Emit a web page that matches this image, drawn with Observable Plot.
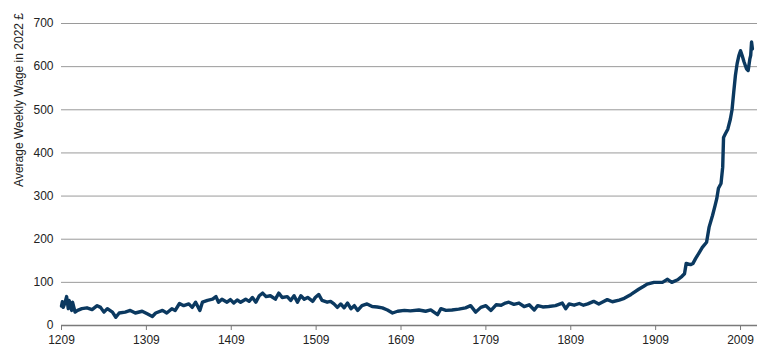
<!DOCTYPE html>
<html>
<head>
<meta charset="utf-8">
<script src="https://cdn.jsdelivr.net/npm/d3@7"></script>
<script src="https://cdn.jsdelivr.net/npm/@observablehq/plot@0.6"></script>
<style>
  html, body { margin: 0; padding: 0; background: #fff; }
  #chart svg { display: block; }
</style>
</head>
<body>
<div id="chart"></div>
<script>
const years = [1209,1210,1211,1213,1215,1217,1218,1221,1222,1225,1228,1233,1239,1245,1251,1255,1259,1263,1269,1273,1277,1284,1290,1296,1304,1310,1316,1320,1328,1333,1339,1343,1348,1353,1359,1363,1367,1372,1375,1381,1387,1391,1394,1398,1404,1408,1412,1416,1420,1426,1430,1434,1438,1442,1446,1450,1455,1461,1465,1469,1475,1479,1483,1487,1491,1495,1499,1505,1508,1512,1516,1522,1526,1530,1534,1538,1542,1546,1550,1554,1558,1563,1569,1575,1581,1587,1593,1599,1605,1613,1620,1630,1638,1644,1652,1656,1662,1669,1677,1685,1691,1697,1703,1709,1715,1721,1727,1732,1736,1742,1748,1754,1760,1766,1770,1776,1783,1791,1799,1803,1807,1813,1819,1824,1829,1836,1842,1846,1852,1858,1866,1872,1880,1889,1895,1899,1907,1917,1923,1928,1935,1940,1943,1945,1950,1953,1956,1960,1964,1969,1972,1976,1979,1981,1983,1986,1988,1989,1991,1994,1997,1999,2001,2003,2005,2007,2009,2011,2013,2016,2018,2020,2021,2022,2023];
const wages = [45,55,42,52,67,39,58,35,54,31,35,39,41,37,46,42,31,39,31,19,29,31,35,29,33,27,21,29,35,29,39,35,51,46,50,42,54,35,54,58,61,67,54,61,54,60,52,59,54,61,56,65,54,69,75,67,69,61,75,65,67,58,69,54,69,61,65,56,65,72,58,54,56,50,42,50,41,52,39,46,35,46,50,44,43,41,36,29,33,35,34,36,33,36,25,39,35,36,38,41,46,31,42,46,35,48,47,52,54,49,52,44,48,36,46,43,44,46,52,39,50,47,51,47,50,56,50,54,60,55,59,63,72,84,91,96,100,100,107,100,106,114,120,144,141,144,155,168,181,193,228,255,278,294,318,329,367,436,444,455,478,500,541,580,607,625,637,625,612,595,591,618,626,657,641];
const xTicks = [1209,1309,1409,1509,1609,1709,1809,1909,2009];
const yTicks = [0,100,200,300,400,500,600,700];
const yGrid = [100,200,300,400,500,600,700];
const yTitle = "Average Weekly Wage in 2022 £";

const data = years.map((y, i) => ({year: y, wage: wages[i]}));

const font = "'Liberation Sans', Arial, Helvetica, sans-serif";
const plot = Plot.plot({
  width: 770,
  height: 355,
  marginLeft: 61,
  marginRight: 13,
  marginTop: 23,
  marginBottom: 30,
  style: {fontFamily: font, fontSize: "12px", color: "#222", background: "#fff"},
  x: {domain: [1209, 2029], label: null},
  y: {domain: [0, 700], label: null},
  marks: [
    Plot.ruleY(yGrid, {stroke: "#9a9a9a", strokeWidth: 1}),
    Plot.axisY({ticks: yTicks, tickSize: 0, tickPadding: 8, tickFormat: d => String(d), fontSize: 12}),
    Plot.axisX({ticks: xTicks, tickSize: 5, tickPadding: 5, stroke: "#7a7a7a", tickFormat: d => String(d), fontSize: 12}),
    Plot.ruleY([0], {stroke: "#7a7a7a", strokeWidth: 1.5}),
    Plot.line(data, {x: "year", y: "wage", stroke: "#0b3960", strokeWidth: 3.4, strokeLinejoin: "round", strokeLinecap: "round"})
  ]
});

d3.select(plot).append("text")
  .attr("transform", "translate(23,13) rotate(-90)")
  .attr("text-anchor", "end")
  .attr("fill", "#222")
  .style("font-family", font)
  .style("font-size", "12px")
  .text(yTitle);

document.getElementById("chart").appendChild(plot);
</script>
</body>
</html>
